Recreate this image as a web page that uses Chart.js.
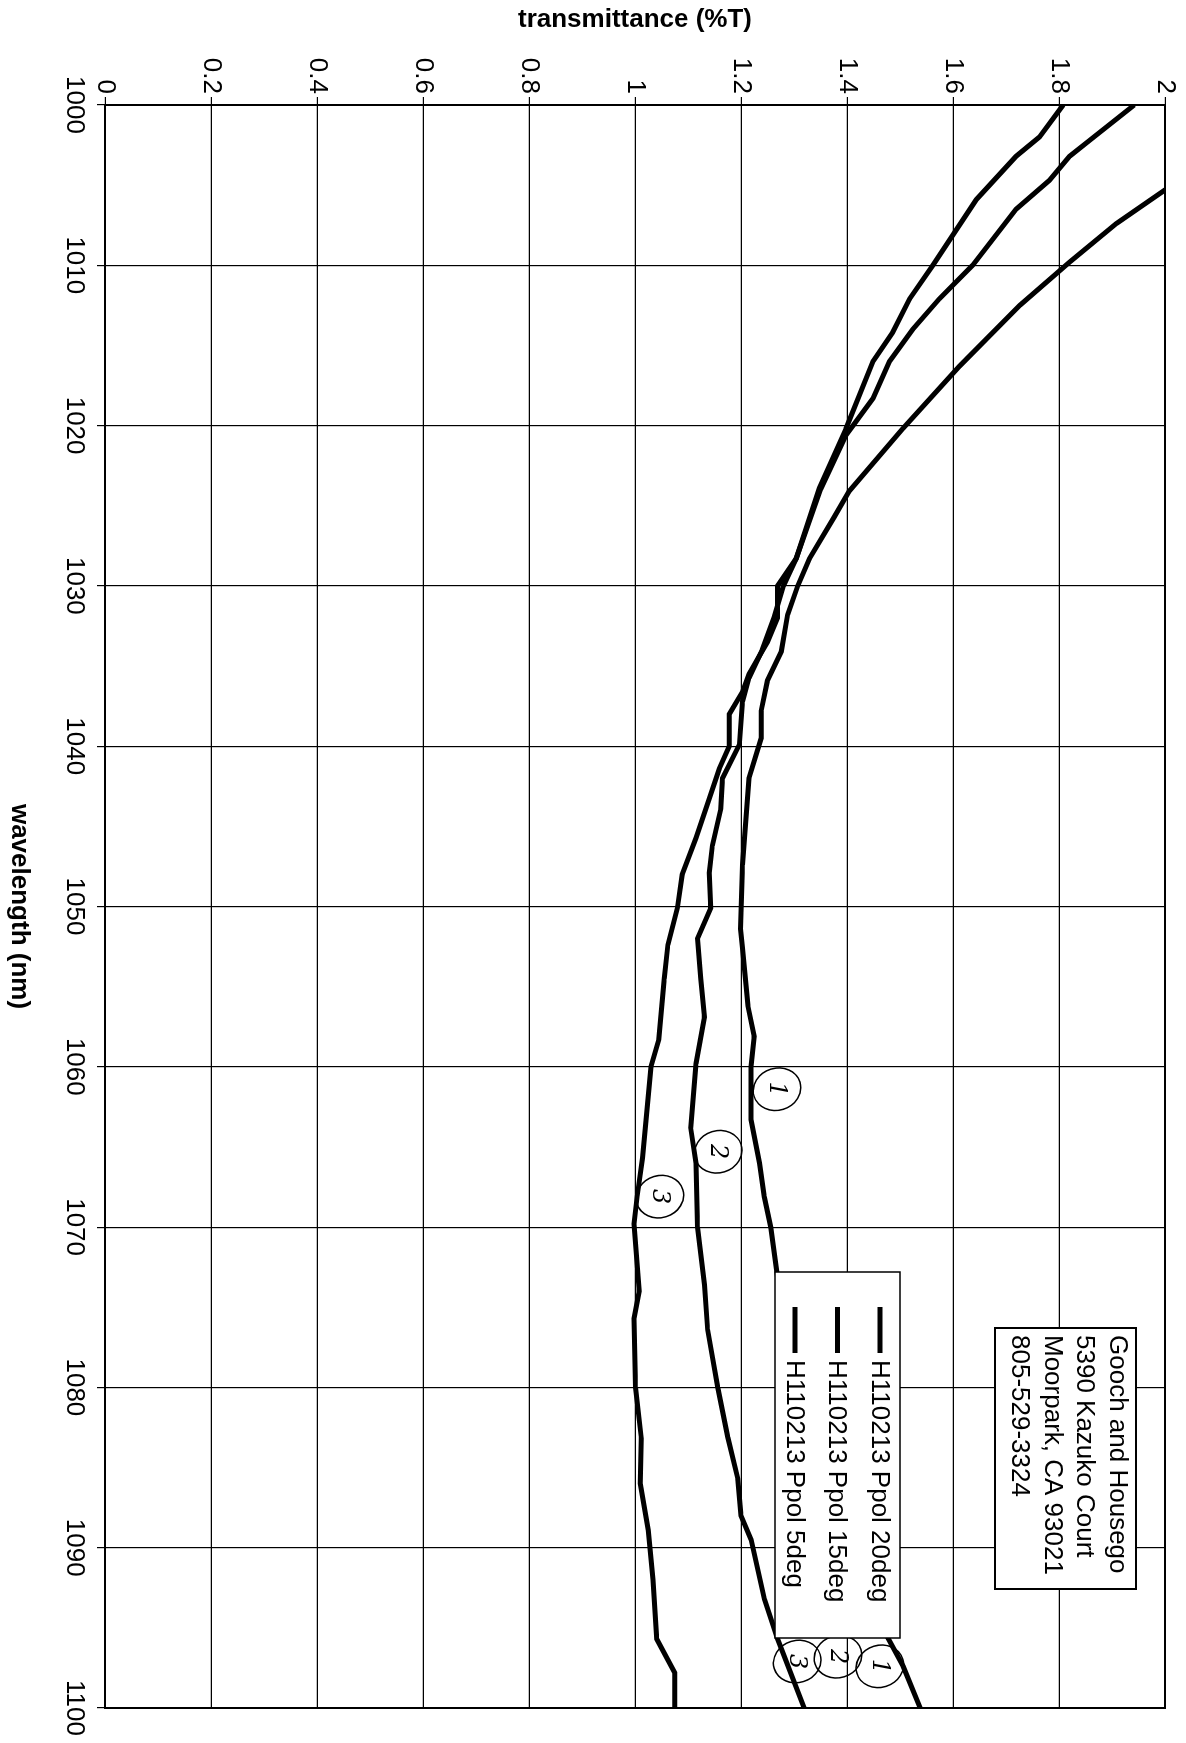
<!DOCTYPE html>
<html>
<head>
<meta charset="utf-8">
<script src="https://cdn.jsdelivr.net/npm/chart.js@4.4.1/dist/chart.umd.min.js"></script>
<style>
html, body { margin: 0; padding: 0; background: #fff; overflow: hidden; width: 1186px; height: 1743px; }
#wrap {
    position: absolute; left: 0; top: 0;
    width: 1743px; height: 1186px;
    transform-origin: 0 0;
    transform: translate(1186px, 0) rotate(90deg);
}
</style>
</head>
<body>
<div id="wrap"><canvas id="myChart" width="1743" height="1186"></canvas></div>
<script>
// tick labels
var wlLabels = ['1000', '1010', '1020', '1030', '1040', '1050', '1060', '1070', '1080', '1090', '1100'];
var tLabels = ['0', '0.2', '0.4', '0.6', '0.8', '1', '1.2', '1.4', '1.6', '1.8', '2'];

var seriesNames = ['H110213 Ppol 20deg', 'H110213 Ppol 15deg', 'H110213 Ppol 5deg'];

// 20deg
var wl1 = [1000, 1005.3, 1007.4, 1009.8, 1012.5, 1016.3, 1020.2, 1024.1, 1025.7, 1028.3, 1030, 1031.8, 1034.1, 1035.9, 1037.8, 1039.5, 1042, 1047.4, 1051.4, 1052.6, 1056.2, 1058.1, 1060, 1063.3, 1066, 1068.1, 1070, 1073.1, 1080, 1090, 1095.5, 1097.4, 1100];
var t1 = [2.2, 2.0, 1.908, 1.82, 1.726, 1.612, 1.505, 1.404, 1.376, 1.329, 1.307, 1.288, 1.276, 1.25, 1.238, 1.238, 1.215, 1.203, 1.199, 1.203, 1.213, 1.225, 1.219, 1.219, 1.235, 1.244, 1.256, 1.269, 1.33, 1.42, 1.475, 1.506, 1.538];

// 15deg
var wl2 = [1000, 1002.2, 1003.2, 1004.7, 1006.5, 1010, 1012.1, 1014, 1016, 1018.3, 1020.6, 1024, 1028.3, 1030, 1032, 1034, 1035.75, 1037.2, 1039.9, 1042, 1043.9, 1046.2, 1047.9, 1050.1, 1052, 1054.5, 1056.9, 1059.8, 1063.8, 1066, 1070, 1073.6, 1076.4, 1080, 1083.1, 1085.7, 1088, 1089.5, 1093.2, 1095.7, 1100];
var t2 = [1.942, 1.858, 1.82, 1.782, 1.719, 1.637, 1.574, 1.524, 1.48, 1.449, 1.398, 1.35, 1.304, 1.28, 1.262, 1.24, 1.215, 1.203, 1.197, 1.165, 1.162, 1.146, 1.14, 1.143, 1.118, 1.124, 1.131, 1.115, 1.105, 1.115, 1.118, 1.131, 1.137, 1.156, 1.175, 1.194, 1.2, 1.219, 1.244, 1.269, 1.319];

// 5deg
var wl3 = [1000, 1002, 1003.2, 1005.9, 1010, 1012.1, 1014.2, 1016, 1020.2, 1023.9, 1028.3, 1030, 1032, 1033.5, 1035.5, 1036.6, 1038, 1040, 1041.4, 1043.3, 1045.75, 1048, 1050.1, 1052.4, 1054.5, 1058.3, 1060, 1065.7, 1068.1, 1069.8, 1074, 1075.7, 1080, 1083.2, 1086, 1088.9, 1092, 1095.7, 1097.8, 1100];
var t3 = [1.808, 1.763, 1.719, 1.644, 1.562, 1.518, 1.486, 1.449, 1.398, 1.348, 1.304, 1.269, 1.269, 1.25, 1.215, 1.203, 1.178, 1.178, 1.159, 1.14, 1.115, 1.089, 1.08, 1.062, 1.055, 1.045, 1.03, 1.014, 1.004, 0.998, 1.008, 0.998, 1.001, 1.012, 1.01, 1.025, 1.034, 1.041, 1.075, 1.075];

// handwritten circled numbers (wavelength, transmittance)
var markText = ['1', '2', '3', '1', '2', '3'];
var markWl = [1061.4, 1065.3, 1068.1, 1097.4, 1096.8, 1097.1];
var markT = [1.268, 1.157, 1.047, 1.462, 1.383, 1.306];

var addressLines = ['Gooch and Housego', '5390 Kazuko Court', 'Moorpark, CA 93021', '805-529-3324'];

var FONT = '"Liberation Sans", Arial, sans-serif';

function toPoints(xs, ys) {
    return xs.map(function (x, i) { return { x: x, y: ys[i] }; });
}

var boxesPlugin = {
    id: 'boxes',
    afterDatasetsDraw: function (chart) {
        var ctx = chart.ctx;
        var a = chart.chartArea;
        var xs = chart.scales.x, ys = chart.scales.y;
        ctx.save();

        // plot frame
        ctx.strokeStyle = '#000';
        ctx.lineWidth = 2;
        ctx.strokeRect(a.left, a.top, a.right - a.left, a.bottom - a.top);

        // circled numbers
        ctx.lineWidth = 1.5;
        ctx.font = 'italic 24px "DejaVu Serif", serif';
        ctx.textAlign = 'center';
        ctx.textBaseline = 'middle';
        for (var i = 0; i < markText.length; i++) {
            var px = xs.getPixelForValue(markWl[i]);
            var py = ys.getPixelForValue(markT[i]);
            ctx.beginPath();
            ctx.ellipse(px, py, 21, 24, -0.3, 0, Math.PI * 2);
            ctx.stroke();
            ctx.fillStyle = '#000';
            ctx.fillText(markText[i], px, py + 1);
        }

        // legend
        var lx0 = a.right - 436, lx1 = a.right - 70;
        var ly0 = a.top + 265, ly1 = a.top + 390;
        ctx.fillStyle = '#fff';
        ctx.fillRect(lx0, ly0, lx1 - lx0, ly1 - ly0);
        ctx.lineWidth = 1.5;
        ctx.strokeRect(lx0, ly0, lx1 - lx0, ly1 - ly0);
        ctx.font = '26px ' + FONT;
        ctx.textAlign = 'left';
        ctx.fillStyle = '#000';
        chart.data.datasets.forEach(function (ds, k) {
            var ry = ly0 + 20 + k * 42.5;
            ctx.lineWidth = 5;
            ctx.beginPath();
            ctx.moveTo(lx0 + 35, ry);
            ctx.lineTo(lx0 + 81, ry);
            ctx.stroke();
            ctx.fillText(ds.label, lx0 + 88, ry + 1);
        });

        // address box
        var bx0 = a.right - 380, bx1 = a.right - 119;
        var by0 = a.top + 29, by1 = a.top + 170;
        ctx.fillStyle = '#fff';
        ctx.fillRect(bx0, by0, bx1 - bx0, by1 - by0);
        ctx.lineWidth = 2;
        ctx.strokeRect(bx0, by0, bx1 - bx0, by1 - by0);
        ctx.fillStyle = '#000';
        addressLines.forEach(function (line, k) {
            ctx.fillText(line, bx0 + 7, by0 + 19 + k * 32.5);
        });

        ctx.restore();
    }
};

document.addEventListener('DOMContentLoaded', function () {
    var ctx = document.getElementById('myChart');
    var lineStyle = { borderColor: '#000', borderWidth: 5, pointRadius: 0, tension: 0, fill: false };

    var myChart = new Chart(ctx, {
        type: 'line',
        data: {
            datasets: [
                Object.assign({ label: seriesNames[0], data: toPoints(wl1, t1) }, lineStyle),
                Object.assign({ label: seriesNames[1], data: toPoints(wl2, t2) }, lineStyle),
                Object.assign({ label: seriesNames[2], data: toPoints(wl3, t3) }, lineStyle)
            ]
        },
        options: {
            responsive: false,
            animation: false,
            devicePixelRatio: 1,
            layout: { padding: { top: 21, right: 35, left: 0, bottom: 0 } },
            plugins: {
                legend: { display: false },
                tooltip: { enabled: false }
            },
            scales: {
                x: {
                    type: 'linear',
                    min: 1000,
                    max: 1100,
                    ticks: {
                        stepSize: 10,
                        autoSkip: false,
                        maxRotation: 0,
                        padding: 7,
                        color: '#000',
                        font: { family: FONT, size: 26 },
                        callback: function (v, i) { return wlLabels[i]; }
                    },
                    grid: { color: '#000', lineWidth: 1.2, tickLength: 8 },
                    border: { color: '#000', width: 2 },
                    title: {
                        display: true,
                        text: 'wavelength (nm)',
                        color: '#000',
                        font: { family: FONT, size: 26, weight: 'bold' },
                        padding: { top: 0, bottom: 4 }
                    },
                    afterFit: function (scale) { scale.height = 105; }
                },
                y: {
                    min: 0,
                    max: 2,
                    ticks: {
                        stepSize: 0.2,
                        padding: 3,
                        color: '#000',
                        font: { family: FONT, size: 26 },
                        callback: function (v, i) { return tLabels[i]; }
                    },
                    grid: { color: '#000', lineWidth: 1.2, tickLength: 8 },
                    border: { color: '#000', width: 2 },
                    title: {
                        display: true,
                        text: 'transmittance (%T)',
                        color: '#000',
                        font: { family: FONT, size: 26, weight: 'bold' },
                        padding: { top: 4, bottom: 0 }
                    },
                    afterFit: function (scale) { scale.width = 105; }
                }
            }
        },
        plugins: [boxesPlugin]
    });
});
</script>
</body>
</html>
